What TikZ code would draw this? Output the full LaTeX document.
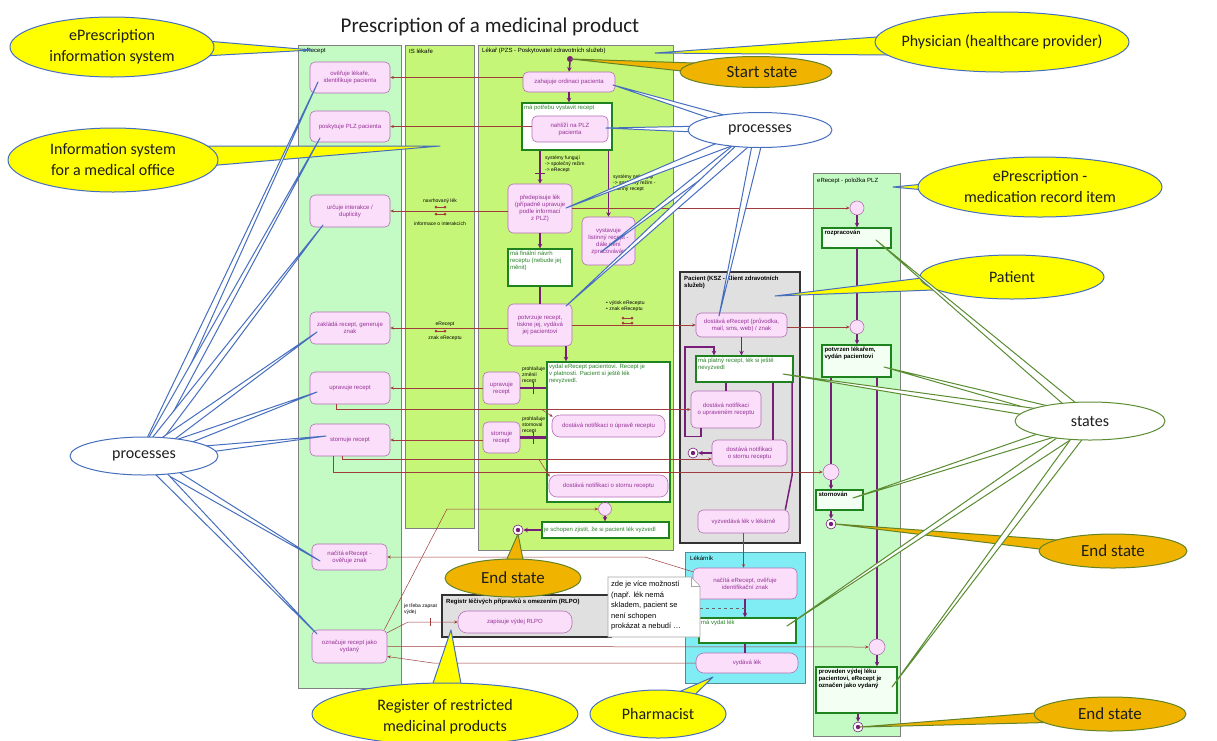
\documentclass[tikz,border=0pt]{standalone}
\usepackage{fontspec}
\setmainfont{Liberation Sans}
\newfontfamily\calfont{Carlito}
\usetikzlibrary{arrows.meta,calc,shapes.geometric}

\definecolor{laneA}{RGB}{196,250,196}
\definecolor{laneB}{RGB}{198,246,120}
\definecolor{laneEdge}{RGB}{128,128,128}
\definecolor{actFill}{RGB}{250,222,250}
\definecolor{actEdge}{RGB}{180,110,180}
\definecolor{actText}{RGB}{150,50,150}
\definecolor{stEdge}{RGB}{30,130,30}
\definecolor{stText}{RGB}{40,130,40}
\definecolor{stFill}{RGB}{242,255,242}
\definecolor{msgCol}{RGB}{160,60,60}
\definecolor{ctrlCol}{RGB}{120,30,120}
\definecolor{grayBox}{RGB}{224,224,224}
\definecolor{darkEdge}{RGB}{50,50,50}
\definecolor{cyanFill}{RGB}{128,236,244}
\definecolor{cyanEdge}{RGB}{80,140,150}
\definecolor{callYel}{RGB}{255,255,0}
\definecolor{callBlue}{RGB}{70,110,190}
\definecolor{callOra}{RGB}{240,180,0}
\definecolor{callOli}{RGB}{100,130,40}
\definecolor{callGrn}{RGB}{90,140,50}
\definecolor{callTxt}{RGB}{30,30,30}

\newcommand\fsA{\fontsize{6}{7}\selectfont}
\newcommand\fsB{\fontsize{5}{5.8}\selectfont}
\newcommand\fsC{\fontsize{16}{21}\selectfont}
\newcommand\fsD{\fontsize{17}{21}\selectfont}
% pointer of a callout: style, centre, tip, half width of the base
\newcommand\cwedge[4]{\draw[#1] ($(#2)!#4pt!90:(#3)$) -- (#3) -- ($(#2)!#4pt!-90:(#3)$) -- cycle;}

\begin{document}
\begin{tikzpicture}[x=1pt, y=-1pt,
  lane/.style={draw=laneEdge, line width=0.8pt},
  act/.style={draw=actEdge, fill=actFill, rounded corners=5pt, text=actText, font=\fsA, align=center, inner sep=1pt, line width=0.6pt},
  st/.style={draw=stEdge, fill=white, line width=1.4pt, inner sep=0pt},
  stt/.style={anchor=north west, text=stText, font=\fsA, align=left, inner sep=2.5pt},
  pst/.style={draw=stEdge, fill=stFill, line width=1.4pt, inner sep=0pt},
  pstt/.style={anchor=north west, text=black, font=\fsA\bfseries, align=left, inner sep=3pt},
  msg/.style={draw=msgCol, line width=0.5pt, -{Stealth[length=3.5pt,width=3pt]}},
  ctrl/.style={draw=ctrlCol, line width=1.5pt},
  ctrla/.style={ctrl, -{Stealth[length=4.5pt,width=4.5pt]}},
  ctrlw/.style={draw=ctrlCol, line width=2.6pt},
  merge/.style={circle, draw=actEdge, fill=actFill, minimum size=14pt, inner sep=0pt, line width=0.6pt},
  endst/.style={circle, draw=ctrlCol, fill=white, minimum size=10pt, inner sep=0pt, line width=0.6pt,
    path picture={\fill[ctrlCol] (path picture bounding box.center) circle (2.2pt);}},
  startst/.style={circle, fill=ctrlCol, minimum size=6pt, inner sep=0pt},
  lbl/.style={font=\fsB, inner sep=0pt, align=left, anchor=north west},
  lanelbl/.style={font=\fsA, inner sep=0pt, anchor=west},
  wy/.style={draw=callBlue, fill=callYel, line width=1pt, line join=round},
  wo/.style={draw=callOli, fill=callOra, line width=1pt, line join=round},
  wp/.style={draw=callBlue, fill=white, line width=1pt, line join=round},
  ws/.style={draw=callGrn, fill=white, line width=1pt, line join=round},
  ctext/.style={font=\calfont\fsC, text=callTxt, align=center, inner sep=0pt},
  otext/.style={font=\calfont\fsD, text=callTxt, align=center, inner sep=0pt}]

\useasboundingbox (0,0) rectangle (1217,740);
\fill[white] (0,0) rectangle (1217,740);

% title
\node[font=\calfont\fontsize{21}{24}\selectfont, text=callTxt] (title) at (490,27) {Prescription of a medicinal product};

% swimlanes and containers
\path[lane, fill=laneA] (298,45) rectangle (401,688);
\path[lane, fill=laneB] (405,45) rectangle (474,528);
\path[lane, fill=laneB] (478,45) rectangle (673,550);
\path[lane, fill=laneA] (813,173) rectangle (900,736);
\path[draw=darkEdge, line width=1.8pt, fill=grayBox] (680,272) rectangle (800,543);
\path[draw=cyanEdge, line width=0.8pt, fill=cyanFill] (685,552) rectangle (805,683);
\path[draw=darkEdge, line width=1.6pt, fill=grayBox] (442,595) rectangle (611,637);

\node[lanelbl] at (303,51) {eRecept};
\node[lanelbl] at (409,51) {IS lékaře};
\node[lanelbl] at (482,51) {Lékař (PZS - Poskytovatel zdravotních služeb)};
\node[lanelbl, anchor=north west, align=left, font=\fsA\bfseries] at (684,276) {Pacient (KSZ - Klient zdravotních\\služeb)};
\node[lanelbl] at (690,558) {Lékárník};
\node[lanelbl, font=\fsA\bfseries] at (446,602) {Registr léčivých přípravků s omezením (RLPO)};
\node[lanelbl] at (817,181) {eRecept - položka PLZ};

% eRecept
\node[act, minimum width=80pt, minimum height=31pt] (a1) at (350,77.5) {ověřuje lékaře,\\identifikuje pacienta};
\node[act, minimum width=80pt, minimum height=31pt] (a2) at (350,126.5) {poskytuje PLZ pacienta};
\node[act, minimum width=80pt, minimum height=32pt] (a3) at (350,211) {určuje interakce /\\duplicity};
\node[act, minimum width=80pt, minimum height=32pt] (a4) at (350,328) {zakládá recept, generuje\\znak};
\node[act, minimum width=80pt, minimum height=32pt] (a5) at (350,388) {upravuje recept};
\node[act, minimum width=80pt, minimum height=32pt] (a6) at (350,440) {stornuje recept};
\node[act, minimum width=75pt, minimum height=26pt] (a7) at (349.5,557) {načítá eRecept -\\ověřuje znak};
\node[act, minimum width=75pt, minimum height=33pt] (a8) at (349.5,646.5) {označuje recept jako\\vydaný};

% physician
\node[startst] (st0) at (570,59) {};
\node[act, minimum width=92pt, minimum height=20pt] (b1) at (569,82) {zahajuje ordinaci pacienta};
\node[st, minimum width=90pt, minimum height=47pt] (s1) at (567,126.5) {};
\node[stt] at (s1.north west) {má potřebu vystavit recept};
\node[act, minimum width=76pt, minimum height=26pt] (b2) at (570,129) {nahlíží na PLZ\\pacienta};
\node[act, minimum width=64pt, minimum height=49pt] (b3) at (540,208.5) {předepisuje lék\\(případně upravuje\\podle informací\\z PLZ)};
\node[act, minimum width=53pt, minimum height=48pt, inner sep=0pt] (b4) at (608.5,241) {vystavuje\\listinný recept -\\dále není\\zpracováván};
\node[st, minimum width=64pt, minimum height=37pt] (s2) at (540,267.5) {};
\node[stt] at (s2.north west) {má finální návrh\\receptu (nebude jej\\měnit)};
\node[act, minimum width=64pt, minimum height=42pt] (b5) at (540,325) {potvrzuje recept,\\tiskne jej, vydává\\jej pacientovi};
\node[st, minimum width=123pt, minimum height=140pt] (s3) at (608.5,432) {};
\node[stt] at (s3.north west) {vydal eRecept pacientovi. Recept je\\v platnosti. Pacient si ještě lék\\nevyzvedl.};
\node[act, minimum width=113pt, minimum height=22pt, rounded corners=8pt] (b6) at (608.5,426) {dostává notifikaci o úpravě receptu};
\node[act, minimum width=119pt, minimum height=22pt, rounded corners=8pt] (b7) at (608.5,486) {dostává notifikaci o stornu receptu};
\node[merge, minimum size=13pt] (m1) at (605,509) {};
\node[st, minimum width=127pt, minimum height=16pt] (s4) at (605.5,530) {};
\node[stt, anchor=west] at (s4.west) {je schopen zjistit, že si pacient lék vyzvedl};
\node[endst] (e1) at (518,530) {};
\node[act, minimum width=37pt, minimum height=32pt, inner sep=0pt] (b8) at (501.5,388) {upravuje\\recept};
\node[act, minimum width=37pt, minimum height=31pt, inner sep=0pt] (b9) at (501.5,437.5) {stornuje\\recept};

% patient
\node[act, minimum width=91pt, minimum height=24pt] (p1) at (741.5,325) {dostává eRecept (průvodka,\\mail, sms, web) / znak};
\node[st, minimum width=97pt, minimum height=26pt] (ps) at (744.5,369) {};
\node[stt] at (ps.north west) {má platný recept, lék si ještě\\nevyzvedl};
\node[act, minimum width=70pt, minimum height=37pt] (p2) at (726,409.5) {dostává notifikaci\\o upraveném receptu};
\node[act, minimum width=75pt, minimum height=26pt] (p3) at (749.5,453) {dostává notifikaci\\o stornu receptu};
\node[endst] (pe) at (693,453) {};
\node[act, minimum width=91pt, minimum height=23pt] (p4) at (743.5,521.5) {vyzvedává lék v lékárně};

% pharmacist
\node[act, minimum width=104pt, minimum height=31pt] (l1) at (745,583.5) {načítá eRecept, ověřuje\\identifikační znak};
\node[st, minimum width=97pt, minimum height=25pt] (ls) at (747.5,630.5) {};
\node[stt] at (ls.north west) {má vydat lék};
\node[act, minimum width=102pt, minimum height=20pt, rounded corners=8pt] (l2) at (747,663) {vydává lék};

% register
\node[act, minimum width=114pt, minimum height=22pt, rounded corners=9pt] (r1) at (515,622) {zapisuje výdej RLPO};

% medication record item
\node[merge] (c1) at (857,208) {};
\node[pst, minimum width=69pt, minimum height=20pt] (q1) at (856.5,238) {};
\node[pstt] at (q1.north west) {rozpracován};
\node[merge] (c2) at (857,327) {};
\node[pst, minimum width=69pt, minimum height=32pt] (q2) at (856.5,361) {};
\node[pstt] at (q2.north west) {potvrzen lékařem,\\vydán pacientovi};
\node[merge, minimum size=16pt] (c3) at (831,472) {};
\node[pst, minimum width=47pt, minimum height=20pt] (q3) at (839.5,500) {};
\node[pstt] at (q3.north west) {stornován};
\node[endst] (qe1) at (831,524) {};
\node[merge, minimum size=16pt] (c4) at (877,647) {};
\node[pst, minimum width=81pt, minimum height=46pt] (q4) at (856.5,690) {};
\node[pstt] at (q4.north west) {proveden výdej léku\\pacientovi, eRecept je\\označen jako vydaný};
\node[endst] (qe2) at (858,727) {};

% control flow
\draw[ctrla] (st0.south) -- (b1.north);
\draw[ctrla] (b1.south) -- (b1.south |- s1.north);
\draw[ctrla] (s1.south -| b3.north) -- (b3.north);
\draw[ctrla] (s1.south -| b4.north) -- (b4.north);
\draw[ctrla] (b3.south) -- (s2.north);
\draw[ctrl] (s2.south) -- (b5.north);
\draw[ctrla] ([xshift=26pt]b5.south) -- ([xshift=26pt]b5.south |- s3.north);
\draw[ctrlw] (b8.east) -- (b8.east -| s3.west);
\draw[ctrlw] (b9.east) -- (b9.east -| s3.west);
\draw[ctrl] (m1.north |- s3.south) -- (m1.north);
\draw[ctrla] (m1.south) -- (m1.south |- s4.north);
\draw[ctrla] (s4.west) -- (e1.east);
\draw[ctrlCol, line width=0.9pt] (535,173) -- (545,173);
\draw[ctrlCol, line width=0.9pt] (533,382) -- (533,394);
\draw[ctrlCol, line width=0.9pt] (533,432) -- (533,444);

\draw[ctrla] (p1.south) -- (p1.south |- ps.north);
\draw[ctrl] (ps.south -| p2.north) -- (p2.north);
\draw[ctrl] ([xshift=28.5pt]ps.south) -- ([xshift=28.5pt]ps.south |- p3.north);
\draw[ctrl] ([xshift=-1.5pt]ps.south east) -- ++(0,92) -- ([xshift=-4pt]p4.north east);
\draw[ctrla] ([xshift=-25pt]p2.south) -- ++(0,8) -| (685,347) -| ([xshift=-30.5pt]ps.north);
\draw[ctrla] (p3.west) -- (pe.east);

\draw[ctrla] (l1.south) -- (l1.south |- ls.north);
\draw[ctrl] (l1.south |- ls.south) -- (l1.south |- l2.north);

\draw[ctrla] (c1.south) -- (c1.south |- q1.north);
\draw[ctrl] (c2.north |- q1.south) -- (c2.north);
\draw[ctrla] (c2.south) -- (c2.south |- q2.north);
\draw[ctrl] (c3.north |- q2.south) -- (c3.north);
\draw[ctrla] (c3.south) -- (c3.south |- q3.north);
\draw[ctrla] (qe1.north |- q3.south) -- (qe1.north);
\draw[ctrl] (c4.north |- q2.south) -- (c4.north);
\draw[ctrla] (c4.south) -- (c4.south |- q4.north);
\draw[ctrla] (qe2.north |- q4.south) -- (qe2.north);

% messages between the lanes
\draw[msg] (b1.west |- a1.east) -- (a1.east);
\draw[msg] (b2.west |- a2.east) -- (a2.east);
\draw[msg] (b3.west |- a3.east) -- (a3.east);
\draw[msg] (b3.east |- c1.west) -- (c1.west);
\draw[msg] (b5.west |- a4.east) -- (a4.east);
\draw[msg] (b5.east) -- (b5.east -| p1.west);
\draw[msg] (p1.east |- c2.west) -- (c2.west);
\draw[msg] (b8.west) -- (b8.west -| a5.east);
\draw[msg] (b9.west |- a6.east) -- (a6.east);
\draw[msg] ([xshift=-14pt]a5.south) |- (p2.west);
\draw[msg] ([xshift=-10pt]b6.north west |- p2.west) -- ([xshift=1pt,yshift=-2pt]b6.north west);
\draw[msg] ([xshift=-8pt]a6.south) |- ([yshift=-6pt]p3.west);
\draw[msg] ([xshift=-10pt]b7.north west |- 0,459) -- ([xshift=1pt,yshift=-2pt]b7.north west);
\draw[msg] ([xshift=-17pt]a6.south) |- (c3.west);
\draw[msg] ([xshift=-3pt]a8.north east) -- (447,509) -- (m1.west);
\draw[msg] ([yshift=-4pt]l1.north west) -- (645,557) -- (a7.east);
\draw[msg] (a8.east) -- (c4.west);
\draw[msg] (l2.west) -- (433,663) -- ([yshift=-10pt]a8.east);
\draw[msg] ([yshift=-3pt]a8.north east) -- (408,622) -- (r1.west);
\draw[msg] (p4.south) -- (p4.south |- l1.north);
\draw[msgCol, line width=0.6pt] (430,618) -- (430,626);

% message markers
\foreach \yy in {207,214,331} {
  \draw[msgCol, line width=0.7pt] (436,\yy) -- (445,\yy);
  \fill[msgCol] (436,\yy) circle (1.5) (445,\yy) circle (1.5);
}
\foreach \yy in {318,323} {
  \draw[msgCol, line width=0.7pt] (623,\yy) -- (632,\yy);
  \fill[msgCol] (623,\yy) circle (1.5) (632,\yy) circle (1.5);
}

% message labels
\node[lbl, anchor=center] at (440,201) {navrhovaný lék};
\node[lbl, anchor=center] at (440,224) {informace o interakcích};
\node[lbl, anchor=center] at (445,324) {eRecept};
\node[lbl, anchor=center] at (445,338) {znak eReceptu};
\node[lbl] at (545,156) {systémy fungují\\-> společný režim\\-> eRecept};
\node[lbl] at (613,175) {systémy nefungují\\-> společný režim -\\listinný recept};
\node[lbl] at (606,301) {• výtisk eReceptu\\• znak eReceptu};
\node[lbl] at (522,367) {prohlašuje\\změnil\\recept};
\node[lbl] at (522,417) {prohlašuje\\stornoval\\recept};
\node[lbl] at (404,604) {je třeba zapsat\\výdej};

% note
\draw[gray!70, fill=white, line width=0.6pt] (608,577) -- (691,577) -- (700,586) -- (700,637) -- (608,637) -- cycle;
\draw[gray!70, line width=0.6pt] (691,577) -- (691,586) -- (700,586);
\node[anchor=north west, align=left, inner sep=0pt, font=\fontsize{7.5}{10.5}\selectfont] (nt) at (611,581) {zde je více možností\\(např. lék nemá\\skladem, pacient se\\není schopen\\prokázat a nebudí \dots};
\coordinate (ntR) at (700,608);
\draw[gray!80!black, dashed, line width=0.8pt] (ntR) -- (ntR -| l1.south);

% callouts: ePrescription information system
\coordinate (kInfo) at (112,47);
\cwedge{wy}{kInfo}{312,50}{14}
\draw[wy] (kInfo) ellipse [x radius=102pt, y radius=30pt];
\node[ctext] (cInfo) at (kInfo) {ePrescription\\information system};

\coordinate (kPhys) at (1002,42);
\cwedge{wy}{kPhys}{655,53}{14}
\draw[wy] (kPhys) ellipse [x radius=127pt, y radius=30pt];
\node[ctext] (cPhys) at (kPhys) {Physician (healthcare provider)};

\coordinate (kOff) at (113,160);
\cwedge{wy}{kOff}{440,146}{14}
\draw[wy] (kOff) ellipse [x radius=105pt, y radius=32pt];
\node[ctext] (cOff) at (kOff) {Information system\\for a medical office};

\coordinate (kItem) at (1040,187);
\cwedge{wy}{kItem}{893,187}{14}
\draw[wy] (kItem) ellipse [x radius=122pt, y radius=30pt];
\node[ctext] (cItem) at (kItem) {ePrescription -\\medication record item};

\coordinate (kPat) at (1012,277);
\cwedge{wy}{kPat}{775,296}{10}
\draw[wy] (kPat) ellipse [x radius=92pt, y radius=22pt];
\node[ctext] (cPat) at (kPat) {Patient};

\coordinate (kReg) at (445,714);
\cwedge{wy}{kReg}{451,630}{22}
\draw[wy] (kReg) ellipse [x radius=133pt, y radius=31pt];
\node[ctext] (cReg) at (445,717) {Register of restricted\\medicinal products};

\coordinate (kPh) at (658,714);
\cwedge{wy}{kPh}{713,677}{12}
\draw[wy] (kPh) ellipse [x radius=68pt, y radius=24pt];
\node[ctext] (cPh) at (kPh) {Pharmacist};

% callouts: start and end states
\coordinate (kStart) at (756,72);
\cwedge{wo}{kStart}{571,59}{7}
\draw[wo] (kStart) ellipse [x radius=76pt, y radius=15.5pt];
\node[otext] (cStart) at (762,72) {Start state};

\coordinate (kE1) at (513,578);
\cwedge{wo}{kE1}{518,534}{14}
\draw[wo] (kE1) ellipse [x radius=68pt, y radius=19pt];
\node[otext] (cE1) at (kE1) {End state};

\coordinate (kE2) at (1113,551);
\cwedge{wo}{kE2}{835,524}{7}
\draw[wo] (kE2) ellipse [x radius=74pt, y radius=17pt];
\node[otext] (cE2) at (kE2) {End state};

\coordinate (kE3) at (1110,714);
\cwedge{wo}{kE3}{860,727}{7}
\draw[wo] (kE3) ellipse [x radius=76pt, y radius=17pt];
\node[otext] (cE3) at (kE3) {End state};

% callouts: processes
\coordinate (kPR) at (760,130);
\foreach \tx/\ty in {613/85, 606/128, 566/208, 601/252, 566/306, 719/316}
  {\cwedge{wp}{kPR}{\tx,\ty}{5}}
\draw[wp] (kPR) ellipse [x radius=72pt, y radius=17.5pt];
\node[ctext] (cPR) at (kPR) {processes};

\coordinate (kPL) at (144,456);
\foreach \tx/\ty in {318/82, 320/138, 323/225, 317/332, 317/392, 326/436, 320/561, 317/634}
  {\cwedge{wp}{kPL}{\tx,\ty}{5}}
\draw[wp] (kPL) ellipse [x radius=74pt, y radius=19pt];
\node[ctext] (cPL) at (kPL) {processes};

% callouts: states
\coordinate (kSt) at (1090,421);
\foreach \tx/\ty in {876/240, 884/367, 783/374, 853/498, 787/626, 892/687}
  {\cwedge{ws}{kSt}{\tx,\ty}{5}}
\draw[ws] (kSt) ellipse [x radius=75pt, y radius=19pt];
\node[ctext] (cSt) at (kSt) {states};

\end{tikzpicture}
\end{document}
